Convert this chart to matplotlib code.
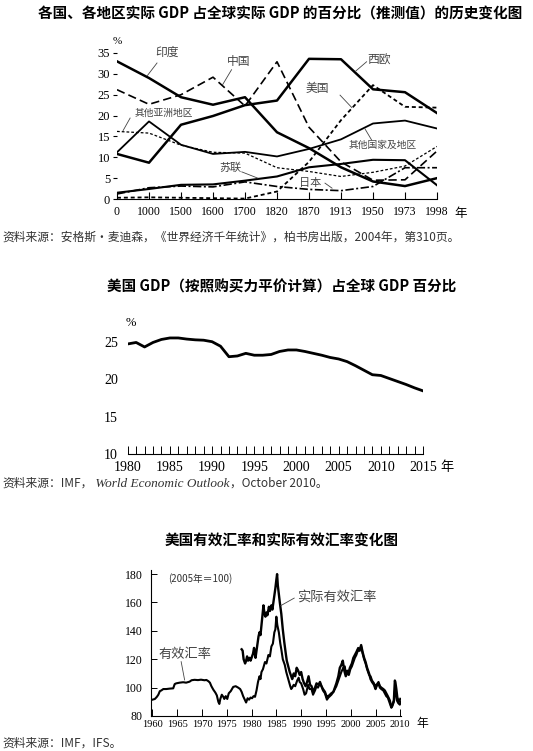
import numpy as np
import matplotlib.pyplot as plt

plt.rcParams['font.family'] = ['Noto Sans CJK SC', 'DejaVu Sans']
SERIF = ['Liberation Serif', 'DejaVu Serif']

# ---------------------------------------------------------------------------
# data: panel 1, share of world GDP (%)
periods = ['0', '1000', '1500', '1600', '1700', '1820', '1870',
           '1913', '1950', '1973', '1998']
india = [33.0, 29.0, 24.4, 22.6, 24.4, 16.0, 12.2, 7.6, 4.2, 3.1, 5.0]
china = [26.2, 22.7, 25.0, 29.2, 22.3, 32.9, 17.2, 8.9, 4.5, 4.6, 11.5]
west_europe = [10.8, 8.7, 17.8, 19.9, 22.5, 23.6, 33.6, 33.5, 26.3, 25.6, 20.6]
usa = [0.3, 0.4, 0.3, 0.2, 0.1, 1.8, 8.9, 18.9, 27.3, 22.1, 21.9]
other_asia = [16.2, 15.8, 12.9, 11.2, 11.0, 7.5, 6.6, 5.4, 6.4, 7.9, 12.6]
others = [11.2, 18.6, 13.0, 10.8, 11.3, 10.2, 12.0, 14.3, 18.1, 18.8, 16.9]
ussr = [1.5, 2.4, 3.4, 3.5, 4.4, 5.4, 7.6, 8.4, 9.4, 9.3, 3.3]
japan = [1.2, 2.7, 3.1, 2.9, 4.1, 3.0, 2.3, 2.0, 3.0, 7.5, 7.5]

# panel 2, US GDP (PPP) share of world GDP (%)
us_years = list(range(1980, 2016))
us_share = [24.7, 24.9, 24.3, 24.9, 25.3, 25.5, 25.5, 25.35, 25.25, 25.2,
            25.0, 24.4, 23.0, 23.1, 23.45, 23.2, 23.2, 23.3, 23.7, 23.9,
            23.9, 23.7, 23.45, 23.2, 22.9, 22.7, 22.35, 21.8, 21.2, 20.6,
            20.5, 20.1, 19.7, 19.3, 18.85, 18.45]

# panel 3, effective exchange rates (2005 = 100)
neer_t = [1960.0, 1960.5, 1960.9, 1961.2, 1961.5, 1961.8, 1962.2, 1962.8, 1963.5,
          1964.2, 1964.5, 1964.8, 1965.5, 1966.2, 1966.8, 1967.5, 1967.9, 1968.5,
          1969.2, 1969.8, 1970.5, 1970.9, 1971.3, 1971.6, 1971.9, 1972.3, 1972.7,
          1973.0, 1973.3, 1973.5, 1973.7, 1974.0, 1974.3, 1974.5, 1974.8, 1975.1,
          1975.4, 1975.8, 1976.3, 1976.8, 1977.3, 1977.7, 1978.0, 1978.3, 1978.7,
          1978.9, 1979.2, 1979.5, 1979.8, 1980.1, 1980.4, 1980.7, 1981.0, 1981.3,
          1981.6, 1981.8, 1982.0, 1982.3, 1982.7, 1983.0, 1983.4, 1983.7, 1984.0,
          1984.3, 1984.6, 1984.8, 1985.0, 1985.2, 1985.5, 1985.8, 1986.0, 1986.3,
          1986.7, 1987.0, 1987.4, 1987.8, 1988.0, 1988.2, 1988.5, 1988.8, 1989.2,
          1989.5, 1989.7, 1990.0, 1990.4, 1990.7, 1991.0, 1991.4, 1991.7, 1992.1,
          1992.4, 1992.8, 1993.1, 1993.4, 1993.8, 1994.1, 1994.4, 1994.8, 1995.2,
          1995.5, 1995.8, 1996.1, 1996.5, 1996.8, 1997.1, 1997.5, 1997.8, 1998.1,
          1998.5, 1998.8, 1999.0, 1999.3, 1999.5, 1999.8, 2000.2, 2000.5, 2000.8,
          2001.1, 2001.5, 2001.8, 2002.1, 2002.4, 2002.7, 2003.0, 2003.3, 2003.7,
          2004.0, 2004.3, 2004.7, 2005.0, 2005.2, 2005.6, 2005.9, 2006.2, 2006.6,
          2006.9, 2007.2, 2007.5, 2007.9, 2008.2, 2008.4, 2008.7, 2008.9, 2009.1,
          2009.3, 2009.6, 2009.9, 2010.1]
neer_v = [91.5, 92, 93.5, 95, 97.5, 98, 99, 99, 99.3,
          99.5, 102.5, 103, 103.5, 103.8, 103.5, 104.2, 105.2, 105.5,
          105.3, 105.6, 105.2, 105.4, 104.5, 103.5, 101, 98.5, 96.5,
          94.5, 90, 88.5, 92, 95, 93.5, 92, 94, 92,
          96, 97.5, 100.5, 101, 100, 99, 97, 94, 91,
          89.5, 92.5, 91.5, 93, 92.5, 94, 93.5, 98, 104,
          108, 106, 111, 113, 118, 117, 123, 122, 129,
          131, 139, 141, 150, 144, 139, 131, 127, 120,
          116, 111, 106, 101, 99, 100, 102, 101, 105,
          107, 104, 103, 99, 95, 96, 102, 99, 99,
          95, 98, 101, 100, 103, 101, 98, 96, 91.5,
          93, 94, 95, 97, 99, 101, 105, 108, 111,
          114, 115, 110, 112, 110, 114, 117, 121, 123,
          125, 128, 127, 129, 124, 120, 117, 113, 109,
          108, 105, 103, 100, 102, 104, 101, 100, 99,
          98, 96, 94, 91, 86, 87, 90, 98, 97,
          91, 89, 88, 90]

reer_t = [1978.0, 1978.2, 1978.4, 1978.7, 1978.9, 1979.1, 1979.3, 1979.6, 1979.8,
          1980.0, 1980.3, 1980.5, 1980.8, 1981.0, 1981.2, 1981.4, 1981.6, 1981.8,
          1982.0, 1982.2, 1982.4, 1982.6, 1982.8, 1983.0, 1983.2, 1983.5, 1983.7,
          1984.0, 1984.2, 1984.4, 1984.6, 1984.8, 1985.0, 1985.15, 1985.3, 1985.5,
          1985.7, 1986.0, 1986.3, 1986.6, 1986.9, 1987.1, 1987.4, 1987.7, 1988.0,
          1988.2, 1988.5, 1988.8, 1989.1, 1989.4, 1989.7, 1990.0, 1990.3, 1990.6,
          1990.9, 1991.2, 1991.5, 1991.8, 1992.1, 1992.4, 1992.8, 1993.1, 1993.5,
          1993.8, 1994.1, 1994.4, 1994.8, 1995.2, 1995.5, 1995.8, 1996.1, 1996.5,
          1996.8, 1997.1, 1997.5, 1997.8, 1998.1, 1998.4, 1998.7, 1999.0, 1999.3,
          1999.6, 1999.9, 2000.2, 2000.5, 2000.8, 2001.1, 2001.5, 2001.8, 2002.1,
          2002.4, 2002.7, 2003.0, 2003.3, 2003.7, 2004.0, 2004.3, 2004.7, 2005.0,
          2005.2, 2005.6, 2005.9, 2006.2, 2006.6, 2006.9, 2007.2, 2007.5, 2007.9,
          2008.2, 2008.4, 2008.7, 2008.9, 2009.0, 2009.2, 2009.4, 2009.7, 2010.0]
reer_v = [127, 126, 120, 117, 119, 122, 119, 121, 119,
          121, 124, 128, 121, 126, 131, 136, 139, 137,
          144, 151, 158, 152, 150, 153, 151, 157, 154,
          158, 155, 160, 165, 170, 176, 180, 172, 166,
          160, 152, 141, 132, 124, 119, 115, 111, 108,
          106, 110, 108, 114, 112, 109, 111, 106, 103,
          101, 104, 108, 102, 101, 97, 100, 103, 102,
          104, 101, 99, 97, 93, 94, 95, 96, 97,
          100, 103, 108, 114, 116, 119, 112, 108, 111,
          109, 113, 115, 118, 121, 123, 127, 126, 130,
          125, 121, 118, 114, 110, 106, 104, 102, 99,
          101, 103, 100, 99, 98, 96, 94, 93, 89,
          86, 88, 91, 105, 104, 99, 93, 90, 92]

# ---------------------------------------------------------------------------
W, H = 533, 751


def rect(l, t, r, b):
    return [l / W, 1 - b / H, (r - l) / W, (b - t) / H]


def ftext(x, y, s, **kw):
    kw.setdefault('ha', 'center')
    kw.setdefault('va', 'center')
    return fig.text(x / W, 1 - y / H, s, **kw)


fig = plt.figure(figsize=(W / 100, H / 100), dpi=100)

# ---------------------------------------------------------------------------
# panel 1
ax1 = fig.add_axes(rect(117, 53, 437, 199))
xi = np.arange(len(periods))
ax1.plot(xi, india, color='black', lw=1.8)
ax1.plot(xi, west_europe, color='black', lw=1.8)
ax1.plot(xi, china, color='black', lw=1.2, ls=(0, (5, 2.5)))
ax1.plot(xi, usa, color='black', lw=1.3, ls=(0, (2.2, 1.6)))
ax1.plot(xi, other_asia, color='black', lw=0.9, ls=(0, (2.2, 1.6)))
ax1.plot(xi, others, color='black', lw=1.3)
ax1.plot(xi, ussr, color='black', lw=1.5)
ax1.plot(xi, japan, color='black', lw=1.2, ls=(0, (5, 1.5, 1.2, 1.5)))
ax1.set_xlim(0, 10)
ax1.set_ylim(0, 35)
ax1.set_xticks(xi)
ax1.set_xticklabels(periods, family=SERIF, fontsize=8.5)
ax1.set_yticks(range(0, 36, 5))
ax1.set_yticklabels([str(v) for v in range(0, 36, 5)], family=SERIF, fontsize=9)
ax1.tick_params(axis='x', direction='in', length=5, width=0.8, pad=5)
ax1.tick_params(axis='y', direction='out', length=3, width=0.8, pad=2)
for s in ['top', 'right', 'left']:
    ax1.spines[s].set_visible(False)
ax1.spines['bottom'].set_linewidth(0.8)
ax1.patch.set_alpha(0)

lab = dict(color='#444444', fontsize=8.5, ha='center', va='center')
lead = dict(color='#444444', lw=0.6)
ax1.text(1.55, 35.2, '印度', **lab)
ax1.plot([0.95, 1.25], [29.6, 32.6], **lead)
ax1.text(3.8, 33.0, '中国', **lab)
ax1.plot([3.58, 3.3], [31.0, 27.4], **lead)
ax1.text(8.2, 33.3, '西欧', **lab)
ax1.plot([7.8, 7.45], [32.9, 30.6], **lead)
ax1.text(6.25, 26.6, '美国', **lab)
ax1.plot([6.97, 7.34], [24.9, 21.9], **lead)
ax1.text(1.45, 20.6, '其他亚洲地区', color='#444444', fontsize=7, ha='center', va='center')
ax1.plot([0.41, 0.19], [19.4, 16.4], **lead)
ax1.text(8.3, 12.9, '其他国家及地区', color='#444444', fontsize=7, ha='center', va='center')
ax1.plot([7.96, 7.75], [14.1, 16.8], **lead)
ax1.text(3.55, 7.4, '苏联', color='#444444', fontsize=8, ha='center', va='center')
ax1.plot([3.9, 4.4], [6.5, 5.0], **lead)
ax1.text(6.05, 3.8, '日本', color='#444444', fontsize=8, ha='center', va='center')
ax1.plot([6.5, 6.72], [3.8, 2.6], **lead)

ftext(117, 41, '%', family=SERIF, fontsize=8)
ftext(461, 213, '年', fontsize=9)
ftext(280, 14, '各国、各地区实际 GDP 占全球实际 GDP 的百分比（推测值）的历史变化图',
      fontsize=10.5, weight='bold')
ftext(2, 237, '资料来源：安格斯·麦迪森，《世界经济千年统计》，柏书房出版，2004年，第310页。',
      ha='left', fontsize=8.5, color='#333333')

# ---------------------------------------------------------------------------
# panel 2
ax2 = fig.add_axes(rect(127.7, 334.2, 423, 454.3))
ax2.plot(us_years, us_share, color='black', lw=2.0)
ax2.set_xlim(1980, 2015)
ax2.set_ylim(10, 26)
ax2.set_xticks(range(1980, 2016, 5))
ax2.set_xticklabels([str(v) for v in range(1980, 2016, 5)], family=SERIF, fontsize=10)
ax2.set_xticks(range(1980, 2016), minor=True)
ax2.set_yticks([10, 15, 20, 25])
ax2.set_yticklabels(['10', '15', '20', '25'], family=SERIF, fontsize=10)
ax2.tick_params(axis='x', which='both', direction='in', length=6, width=0.7, pad=5)
ax2.tick_params(axis='y', length=0, pad=7)
for s in ['top', 'right', 'left']:
    ax2.spines[s].set_visible(False)
ax2.spines['bottom'].set_linewidth(0.8)
ax2.patch.set_alpha(0)

ftext(131, 323, '%', family=SERIF, fontsize=9)
ftext(447, 467, '年', fontsize=9.5)
ftext(282, 287, '美国 GDP（按照购买力平价计算）占全球 GDP 百分比',
      fontsize=10.5, weight='bold')

src_y = 1 - 487 / H
t1 = fig.text(2 / W, src_y, '资料来源：IMF，', ha='left', va='baseline',
              fontsize=8.5, color='#333333')
t2 = fig.text(0, src_y, ' World Economic Outlook', family=SERIF, style='italic',
              fontsize=9.5, color='#333333', ha='left', va='baseline')
t3 = fig.text(0, src_y, '，October 2010。', fontsize=8.5, color='#333333',
              ha='left', va='baseline')
fig.canvas.draw()
r = fig.canvas.get_renderer()
bb1 = t1.get_window_extent(r)
t2.set_position((bb1.x1 / fig.bbox.width, src_y))
bb2 = t2.get_window_extent(r)
t3.set_position((bb2.x1 / fig.bbox.width, src_y))

# ---------------------------------------------------------------------------
# panel 3
ax3 = fig.add_axes(rect(151.3, 570, 401.3, 716))
ax3.plot(neer_t, neer_v, color='black', lw=1.5)
ax3.plot(reer_t, reer_v, color='black', lw=1.7)
ax3.set_xlim(1959.78, 2010.2)
ax3.set_ylim(80, 182.9)
ax3.set_xticks(range(1960, 2011, 5))
ax3.set_xticklabels([str(v) for v in range(1960, 2011, 5)], family=SERIF, fontsize=7.5)
ax3.set_yticks(range(80, 181, 20))
ax3.set_yticklabels([str(v) for v in range(80, 181, 20)], family=SERIF, fontsize=8.5)
ax3.tick_params(axis='x', direction='in', length=5, width=0.7, pad=3)
ax3.tick_params(axis='y', direction='in', length=4, width=0.7, pad=6)
for s in ['top', 'right']:
    ax3.spines[s].set_visible(False)
ax3.spines['bottom'].set_linewidth(0.8)
ax3.spines['left'].set_linewidth(0.8)
ax3.patch.set_alpha(0)

ax3.text(1969.6, 176.7, '(2005年＝100)', color='#333333', fontsize=7,
         ha='center', va='center')
ax3.text(1997.1, 164, '实际有效汇率', color='#444444', fontsize=9.5,
         ha='center', va='center')
ax3.plot([1985.9, 1988.6], [157.8, 163.1], color='#444444', lw=0.6)
ax3.text(1966.6, 123, '有效汇率', color='#444444', fontsize=9.5,
         ha='center', va='center')
ax3.plot([1965.8, 1966.5], [118.3, 105.4], color='#444444', lw=0.6)

ftext(422, 723, '年', fontsize=8.5)
ftext(282, 541, '美国有效汇率和实际有效汇率变化图', fontsize=10.5, weight='bold')
ftext(2, 743, '资料来源：IMF，IFS。', ha='left', fontsize=8.5, color='#333333')

plt.savefig('out.png', dpi=100)
